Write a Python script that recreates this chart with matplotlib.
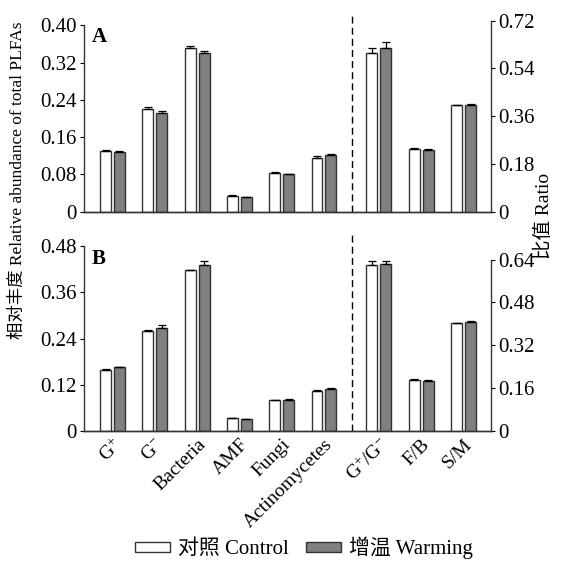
import matplotlib
matplotlib.use('Agg')
import matplotlib.pyplot as plt
from matplotlib.patches import Patch
import numpy as np

plt.rcParams['font.family'] = ['Liberation Serif', 'Noto Sans CJK SC']
plt.rcParams['mathtext.fontset'] = 'custom'
plt.rcParams['mathtext.rm'] = 'Liberation Serif'
plt.rcParams['mathtext.it'] = 'Liberation Serif:italic'
plt.rcParams['axes.unicode_minus'] = True

# 分类与数据
abund_labels = ['G$^{+}$', 'G$^{-}$', 'Bacteria', 'AMF', 'Fungi', 'Actinomycetes']
ratio_labels = ['G$^{+}$/G$^{-}$', 'F/B', 'S/M']

a_ctrl = [0.131, 0.220, 0.352, 0.034, 0.0835, 0.116]
a_ctrl_se = [0.002, 0.004, 0.003, 0.001, 0.002, 0.003]
a_warm = [0.129, 0.211, 0.3415, 0.0315, 0.0807, 0.1215]
a_warm_se = [0.002, 0.005, 0.004, 0.001, 0.001, 0.002]
a_ratio_ctrl = [0.599, 0.236, 0.4006]
a_ratio_ctrl_se = [0.016, 0.004, 0.002]
a_ratio_warm = [0.6176, 0.2335, 0.403]
a_ratio_warm_se = [0.02, 0.002, 0.003]

b_ctrl = [0.159, 0.2587, 0.4175, 0.032, 0.079, 0.104]
b_ctrl_se = [0.002, 0.004, 0.002, 0.001, 0.001, 0.001]
b_warm = [0.165, 0.2674, 0.4315, 0.0295, 0.0807, 0.1094]
b_warm_se = [0.002, 0.007, 0.010, 0.001, 0.001, 0.002]
b_ratio_ctrl = [0.6195, 0.189, 0.402]
b_ratio_ctrl_se = [0.016, 0.003, 0.002]
b_ratio_warm = [0.623, 0.1865, 0.406]
b_ratio_warm_se = [0.013, 0.003, 0.004]

x_abund = np.arange(6)
x_ratio = np.array([6.3, 7.3, 8.3])
w = 0.26
off = 0.165
edge = '#333333'
grey = '#808080'
fs_tick = 15      # y 刻度
fs_x = 14         # x 刻度
fs_leg = 15


def panel(rect, ctrl, ctrl_se, warm, warm_se, rctrl, rctrl_se, rwarm, rwarm_se,
          lticks, ltop, rticks, rtop, letter, ly, show_x):
    ax = fig.add_axes(rect)
    ax2 = ax.twinx()
    ekw = dict(ecolor='black', elinewidth=0.9, capsize=3, capthick=0.9)
    ax.bar(x_abund - off, ctrl, w, color='white', edgecolor=edge, linewidth=1,
           yerr=[np.zeros(6), ctrl_se], error_kw=ekw)
    ax.bar(x_abund + off, warm, w, color=grey, edgecolor=edge, linewidth=1,
           yerr=[np.zeros(6), warm_se], error_kw=ekw)
    ax2.bar(x_ratio - off, rctrl, w, color='white', edgecolor=edge, linewidth=1,
            yerr=[np.zeros(3), rctrl_se], error_kw=ekw)
    ax2.bar(x_ratio + off, rwarm, w, color=grey, edgecolor=edge, linewidth=1,
            yerr=[np.zeros(3), rwarm_se], error_kw=ekw)
    ax.axvline(5.67, color='black', linestyle=(0, (5, 3)), linewidth=1)

    ax.set_xlim(-0.674, 8.949)
    ax.set_ylim(0, ltop)
    ax2.set_ylim(0, rtop)
    ax.set_yticks(lticks)
    ax.set_yticklabels(['0'] + ['%.2f' % v for v in lticks[1:]], fontsize=fs_tick)
    ax2.set_yticks(rticks)
    ax2.set_yticklabels(['0'] + ['%.2f' % v for v in rticks[1:]], fontsize=fs_tick)
    for a in (ax, ax2):
        a.spines['top'].set_visible(False)
        for s in a.spines.values():
            s.set_color('#333333')
            s.set_linewidth(1)
    ax.spines['left'].set_bounds(0, lticks[-1])
    ax2.spines['right'].set_bounds(0, rticks[-1])
    ax2.spines['left'].set_visible(False)
    ax.spines['right'].set_visible(False)
    ax.tick_params(axis='y', direction='out', length=3, pad=2)
    ax2.tick_params(axis='y', direction='out', length=3, pad=2)
    ax.tick_params(axis='x', length=0)
    ax2.tick_params(axis='x', length=0)
    if show_x:
        ax.set_xticks(list(x_abund) + list(x_ratio))
        ax.set_xticklabels(abund_labels + ratio_labels, rotation=45, ha='right',
                           rotation_mode='anchor', fontsize=fs_x)
    else:
        ax.set_xticks([])
    ax.text(0.02, ly, letter, transform=ax.transAxes,
            fontsize=15, fontweight='bold', va='center', ha='left')
    return ax, ax2


fig = plt.figure(figsize=(5.66, 5.61), dpi=100)

panel([0.1484, 0.6226, 0.7191, 0.3506], a_ctrl, a_ctrl_se, a_warm, a_warm_se,
      a_ratio_ctrl, a_ratio_ctrl_se, a_ratio_warm, a_ratio_warm_se,
      [0, 0.08, 0.16, 0.24, 0.32, 0.40], 0.422,
      [0, 0.18, 0.36, 0.54, 0.72], 0.7407, 'A', 0.89, False)

panel([0.1484, 0.2323, 0.7191, 0.3524], b_ctrl, b_ctrl_se, b_warm, b_warm_se,
      b_ratio_ctrl, b_ratio_ctrl_se, b_ratio_warm, b_ratio_warm_se,
      [0, 0.12, 0.24, 0.36, 0.48], 0.5149,
      [0, 0.16, 0.32, 0.48, 0.64], 0.740, 'B', 0.87, True)

fig.text(0.031, 0.679, '相对丰度 Relative abundance of total PLFAs', rotation=90,
         ha='center', va='center', fontsize=12.5)
fig.text(0.96, 0.615, '比值 Ratio', rotation=90, ha='center', va='center', fontsize=14)

handles = [Patch(facecolor='white', edgecolor=edge, label='对照 Control'),
           Patch(facecolor=grey, edgecolor=edge, label='增温 Warming')]
fig.legend(handles=handles, loc='center', bbox_to_anchor=(0.537, 1 - 548 / 561),
           ncol=2, frameon=False, fontsize=fs_leg, handlelength=1.7, handleheight=0.35,
           handletextpad=0.4, columnspacing=0.8)

fig.savefig('out.png', dpi=100)
